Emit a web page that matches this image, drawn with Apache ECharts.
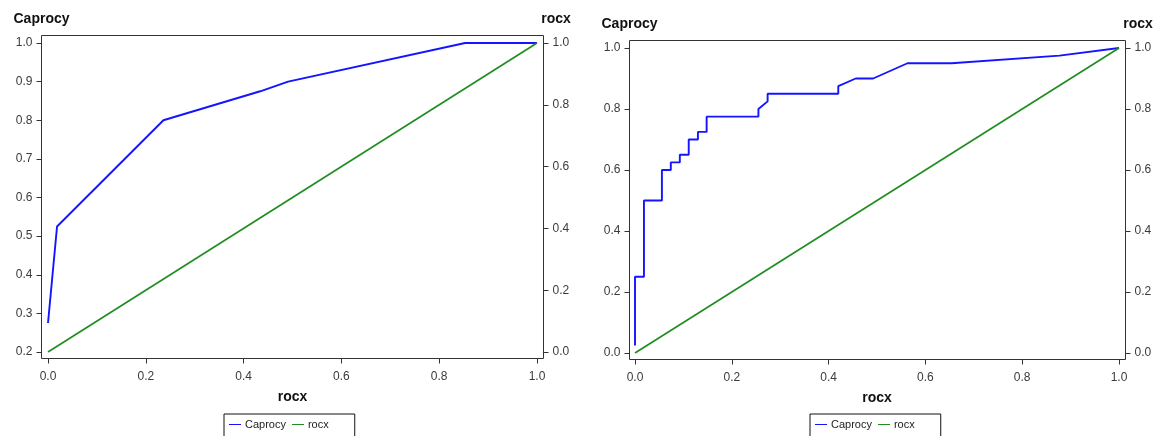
<!DOCTYPE html>
<html>
<head>
<meta charset="utf-8">
<script src="https://cdn.jsdelivr.net/npm/echarts@6/dist/echarts.min.js"></script>
<style>
  html, body { margin: 0; padding: 0; background: #fff; }
  #chart { width: 1160px; height: 436px; }
</style>
</head>
<body>
<div id="chart"></div>
<script>
// Left panel: smoothed ROC curve (Caprocy against rocx) plus the rocx reference diagonal
const leftRocx = [0, 0.0185, 0.236, 0.434, 0.491, 0.853, 1.0];
const leftCaprocy = [0.275, 0.525, 0.8, 0.875, 0.9, 1.0, 1.0];

// Right panel: empirical (step) ROC curve
const rightRocx = [0, 0, 0.0185, 0.0185, 0.0556, 0.0556, 0.074, 0.074, 0.0926, 0.0926,
  0.111, 0.111, 0.13, 0.13, 0.148, 0.148, 0.255, 0.255, 0.274, 0.274,
  0.42, 0.42, 0.456, 0.492, 0.563, 0.654, 0.877, 1.0];
const rightCaprocy = [0.025, 0.25, 0.25, 0.5, 0.5, 0.6, 0.6, 0.625, 0.625, 0.65,
  0.65, 0.7, 0.7, 0.725, 0.725, 0.775, 0.775, 0.8, 0.825, 0.85,
  0.85, 0.875, 0.9, 0.9, 0.95, 0.95, 0.975, 1.0];

// Reference diagonal rocx = rocx
const diagX = [0, 1];
const diagY = [0, 1];

const seriesNames = ['Caprocy', 'rocx'];

const FONT = '"Liberation Sans", Arial, sans-serif';
const BLUE = '#1414ff';
const GREEN = '#1f8c1f';
const AXIS = '#333';

const pairs = (xs, ys) => xs.map((x, i) => [x, ys[i]]);
const fmt = v => v.toFixed(1);

function yAxisDef(gridIndex, pos, min, max, interval, offset, name, nameStyle) {
  return {
    type: 'value', gridIndex, position: pos, min, max, interval, offset,
    name, nameLocation: 'end', nameGap: 16,
    nameTextStyle: Object.assign({ fontFamily: FONT, fontSize: 14, fontWeight: 'bold',
      color: '#111', lineHeight: 16 }, nameStyle || {}),
    axisLine: { show: false, onZero: false },
    axisTick: { show: true, inside: false, length: 5, lineStyle: { color: AXIS } },
    axisLabel: { fontFamily: FONT, fontSize: 12, color: '#3a3a3a', margin: 9, formatter: fmt },
    splitLine: { show: false }
  };
}

function xAxisDef(gridIndex, offset) {
  return {
    type: 'value', gridIndex, position: 'bottom', min: 0, max: 1, interval: 0.2, offset,
    name: 'rocx', nameLocation: 'middle', nameGap: 31,
    nameTextStyle: { fontFamily: FONT, fontSize: 14, fontWeight: 'bold', color: '#111', lineHeight: 16 },
    axisLine: { show: false, onZero: false },
    axisTick: { show: true, inside: false, length: 5, lineStyle: { color: AXIS } },
    axisLabel: { fontFamily: FONT, fontSize: 12, color: '#3a3a3a', margin: 12, formatter: fmt },
    splitLine: { show: false }
  };
}

function legendDef(left) {
  return {
    data: seriesNames, left, top: 414, orient: 'horizontal',
    icon: 'rect', itemWidth: 12, itemHeight: 1, itemGap: 6,
    borderColor: '#111', borderWidth: 1, borderRadius: 0,
    padding: [5, 26, 9, 5],
    textStyle: { fontFamily: FONT, fontSize: 11, color: '#222', padding: [0, 0, 0, -1] },
    selectedMode: false
  };
}

const chart = echarts.init(document.getElementById('chart'), null, { renderer: 'canvas' });

chart.setOption({
  animation: false,
  backgroundColor: '#fff',
  grid: [
    { left: 48, top: 43, width: 489, height: 309, containLabel: false },
    { left: 635, top: 48, width: 484, height: 305, containLabel: false }
  ],
  xAxis: [xAxisDef(0, 6.5), xAxisDef(1, 6.5)],
  yAxis: [
    yAxisDef(0, 'left', 0.2, 1.0, 0.1, 6.5, 'Caprocy'),
    yAxisDef(0, 'right', 0, 1, 0.2, 6.5, 'rocx', { padding: [0, 0, 0, 25] }),
    yAxisDef(1, 'left', 0, 1, 0.2, 5.5, 'Caprocy'),
    yAxisDef(1, 'right', 0, 1, 0.2, 6.5, 'rocx', { padding: [0, 0, 0, 25] })
  ],
  legend: [legendDef(224), legendDef(810)],
  graphic: [
    { type: 'rect', silent: true, shape: { x: 41.5, y: 35.5, width: 502, height: 323 },
      style: { fill: 'none', stroke: AXIS, lineWidth: 1 } },
    { type: 'rect', silent: true, shape: { x: 629.5, y: 40.5, width: 496, height: 319 },
      style: { fill: 'none', stroke: AXIS, lineWidth: 1 } }
  ],
  series: [
    { name: 'Caprocy', type: 'line', xAxisIndex: 0, yAxisIndex: 0,
      data: pairs(leftRocx, leftCaprocy), showSymbol: false, symbol: 'none',
      color: BLUE, lineStyle: { color: BLUE, width: 1.9 } },
    { name: 'rocx', type: 'line', xAxisIndex: 0, yAxisIndex: 1,
      data: pairs(diagX, diagY), showSymbol: false, symbol: 'none',
      color: GREEN, lineStyle: { color: GREEN, width: 1.6 } },
    { name: 'Caprocy', type: 'line', xAxisIndex: 1, yAxisIndex: 2,
      data: pairs(rightRocx, rightCaprocy), showSymbol: false, symbol: 'none',
      color: BLUE, lineStyle: { color: BLUE, width: 1.9 } },
    { name: 'rocx', type: 'line', xAxisIndex: 1, yAxisIndex: 3,
      data: pairs(diagX, diagY), showSymbol: false, symbol: 'none',
      color: GREEN, lineStyle: { color: GREEN, width: 1.6 } }
  ]
});
</script>
</body>
</html>
